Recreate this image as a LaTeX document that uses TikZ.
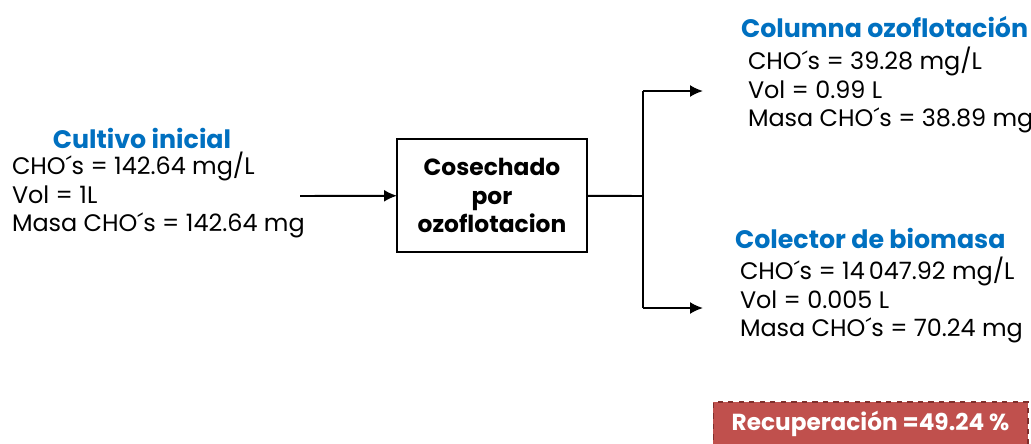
\documentclass[tikz,border=0pt]{standalone}
\usepackage{fontspec}
\setmainfont{Poppins}
\usetikzlibrary{arrows.meta}
\definecolor{titblue}{HTML}{0070C0}
\definecolor{recred}{HTML}{C0504D}
\definecolor{recedge}{HTML}{7F2F2C}
\begin{document}
\begin{tikzpicture}[x=0.02cm, y=-0.02cm]
\tikzset{ >={Latex[length=2.6mm, width=2.4mm]}, inner sep=0pt, outer sep=0pt,
  txt/.style={font=\fontsize{13.6}{16.4}\selectfont, align=left, anchor=west},
  tit/.style={font=\fontsize{14.4}{16}\selectfont\bfseries, text=titblue},
  proc/.style={draw, line width=1.1pt, minimum width=3.8cm, minimum height=2.26cm,
    align=center, font=\fontsize{13.3}{16.4}\selectfont\bfseries},
  line/.style={line width=1.1pt} }

\useasboundingbox (0,0) rectangle (1031,443);

%\draw [lightgray, dashed](0,0) grid (1031,443);

\node [tit] (tini) at (142,138) {Cultivo inicial};
\node [txt] (ini) at (12,195) {CHO´s = 142.64 mg/L\\Vol = 1L\\Masa CHO´s = 142.64 mg};

\node [proc] (box) at (492,195.5) {Cosechado\\por\\ozoflotacion};

\node [tit, anchor=west] (tcol) at (741,27) {Columna ozoflotación};
\node [txt] (col) at (748,90) {CHO´s = 39.28 mg/L\\Vol = 0.99 L\\Masa CHO´s = 38.89 mg};

\node [tit, anchor=west] (tbio) at (735,238) {Colector de biomasa};
\node [txt] (bio) at (740,300) {CHO´s = 14\,047.92 mg/L\\Vol = 0.005 L\\Masa CHO´s = 70.24 mg};

\coordinate (in) at (300,196);
\coordinate (j)  at (643,196);
\coordinate (jt) at (643,91);
\coordinate (jb) at (643,308);
\coordinate (ot) at (703,91);
\coordinate (ob) at (703,308);

\draw [->, line] (in) -- (box);
\draw [line] (box) -- (j);
\draw [line] (jt) -- (jb);
\draw [->, line] (jt) -- (ot);
\draw [->, line] (jb) -- (ob);

\node [fill=recred, draw=recedge, dashed, line width=0.6pt, minimum width=6.3cm,
  minimum height=0.88cm, text=white, font=\fontsize{13.2}{14}\selectfont\bfseries]
  (rec) at (870.5,424) {Recuperación =49.24 \%};

\end{tikzpicture}
\end{document}
